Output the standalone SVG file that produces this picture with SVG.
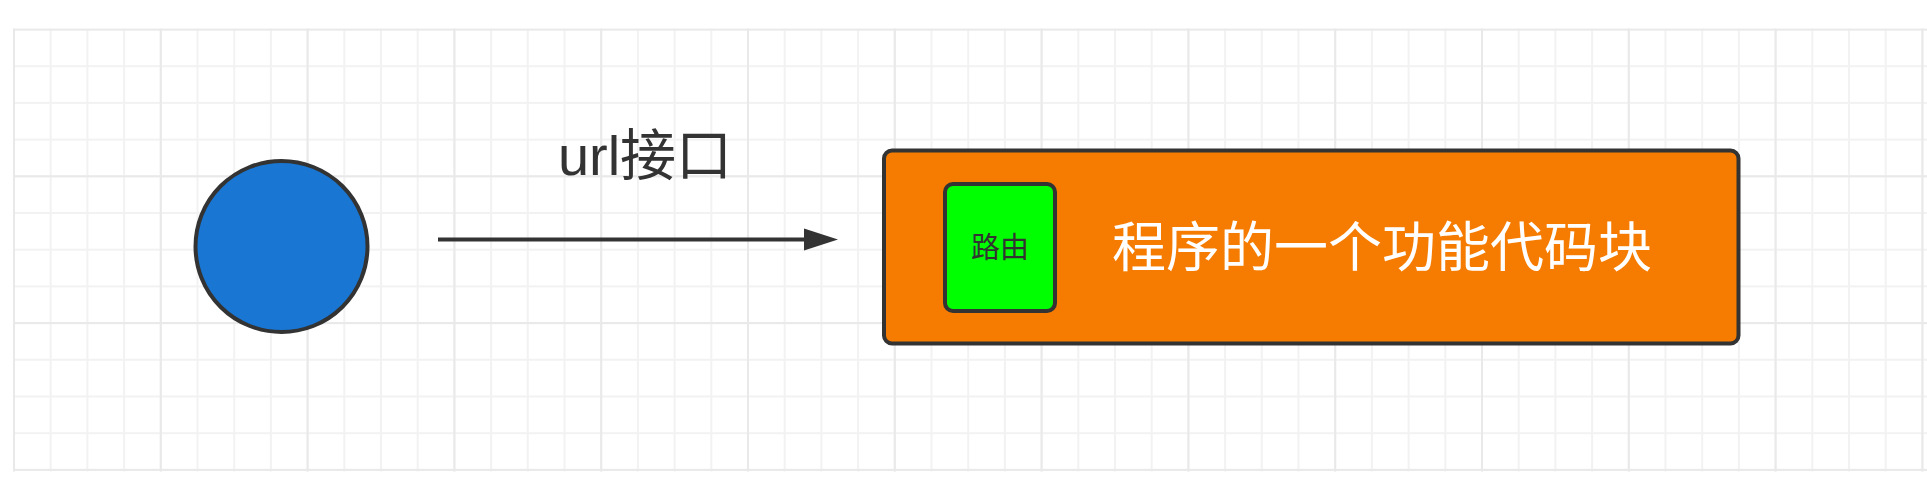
<svg xmlns="http://www.w3.org/2000/svg" width="1927" height="478" viewBox="0 0 1927 478">
  <style>
    .outline { stroke: #333333; stroke-width: 4; }
    .label { font-family: "Liberation Sans", "Noto Sans CJK SC", sans-serif; }
  </style>
  <defs>
    <pattern id="gridMinor" patternUnits="userSpaceOnUse" x="13" y="28.5" width="36.7" height="36.7">
      <path d="M0 1H36.7M1 0V36.7" stroke="#f2f2f2" stroke-width="2" fill="none"/>
    </pattern>
    <pattern id="gridMajor" patternUnits="userSpaceOnUse" x="13" y="28.5" width="146.8" height="146.8">
      <path d="M0 1H146.8M1 0V146.8" stroke="#e9e9e9" stroke-width="2" fill="none"/>
    </pattern>
  </defs>
  <rect width="1927" height="478" fill="#ffffff"/>
  <g id="grid">
    <rect x="13" y="28.5" width="1914" height="443" fill="url(#gridMinor)"/>
    <rect x="13" y="28.5" width="1914" height="443" fill="url(#gridMajor)"/>
  </g>
  <g id="connectors">
    <line x1="438" y1="239.5" x2="805" y2="239.5" stroke="#333333" stroke-width="4"/>
    <path d="M804 228.5L838 239.5L804 250.5Z" fill="#333333"/>
    <text class="label" x="645" y="175" font-size="56" fill="#333333" text-anchor="middle">url接口</text>
  </g>
  <g id="node-circle">
    <ellipse cx="281.5" cy="246.5" rx="86" ry="85.5" fill="#1976d2" class="outline"/>
  </g>
  <g id="node-block">
    <rect x="884" y="150.5" width="854.5" height="193" rx="8" ry="8" fill="#f57c00" class="outline"/>
    <text class="label" x="1382" y="248" font-size="54" fill="#ffffff" text-anchor="middle" dominant-baseline="central">程序的一个功能代码块</text>
  </g>
  <g id="node-route">
    <rect x="945" y="184" width="110" height="127" rx="8" ry="8" fill="#00ff00" class="outline"/>
    <text class="label" x="1000" y="247.5" font-size="29" fill="#333333" text-anchor="middle" dominant-baseline="central">路由</text>
  </g>
</svg>
